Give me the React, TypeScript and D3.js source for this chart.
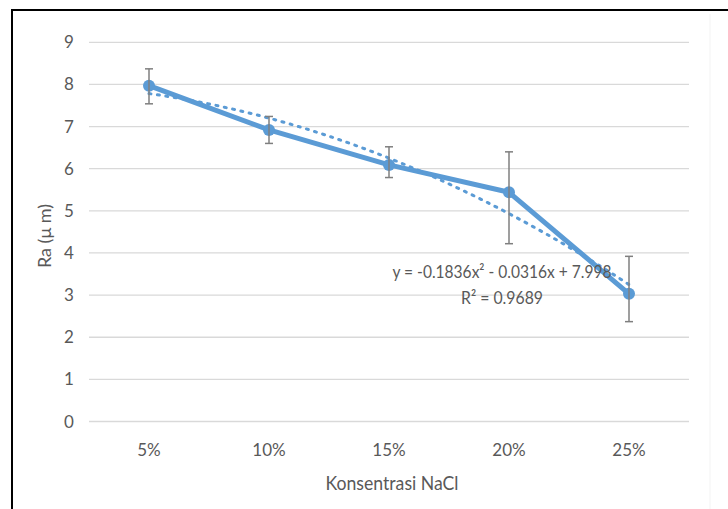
import React from "react";
import * as d3 from "d3";

const categories = ["5%", "10%", "15%", "20%", "25%"];
const raValues = [7.97, 6.92, 6.09, 5.44, 3.03];
const errUpper = [8.37, 7.24, 6.52, 6.4, 3.92];
const errLower = [7.54, 6.6, 5.79, 4.22, 2.37];
const yTicks = [0, 1, 2, 3, 4, 5, 6, 7, 8, 9];
const trendCoef = [-0.1836, -0.0316, 7.998]; // a x^2 + b x + c, from the chart's label
const trendR2 = 0.9689;

const W = 728;
const H = 509;
const FONT = "Lato, 'Open Sans', sans-serif";
const BLUE = "#5B9BD5";
const TXT = "#595959";

export default function App() {
  const x = d3.scaleBand<string>().domain(categories).range([89, 689]);
  const cx = (c: string) => (x(c) as number) + x.bandwidth() / 2;
  const y = d3.scaleLinear().domain([0, 9]).range([421.5, 42.3]);

  const pts = categories.map((c, i) => ({ c, v: raValues[i], hi: errUpper[i], lo: errLower[i] }));
  const line = d3
    .line<{ c: string; v: number }>()
    .x((d) => cx(d.c))
    .y((d) => y(d.v));

  const xi = d3
    .scaleLinear()
    .domain([1, categories.length])
    .range([cx(categories[0]), cx(categories[categories.length - 1])]);
  const samples = d3.range(1, categories.length + 0.001, 0.05);
  const trend = d3
    .line<number>()
    .x((t) => xi(t))
    .y((t) => y(trendCoef[0] * t * t + trendCoef[1] * t + trendCoef[2]))(samples);

  const eq1 = `y = ${trendCoef[0]}x\u00B2 - ${Math.abs(trendCoef[1])}x + ${trendCoef[2]}`;
  const eq2 = `R\u00B2 = ${trendR2}`;

  return (
    <div style={{ position: "fixed", left: 0, top: 0 }}>
      <svg width={W} height={H} style={{ display: "block", background: "#fff" }}>
        <rect x={12} y={10} width={740} height={540} fill="none" stroke="#000" strokeWidth={2} />
        <line x1={710} x2={710} y1={14} y2={509} stroke="#f3f3f3" strokeWidth={1} />
        {yTicks.map((t) => (
          <g key={t}>
            <line x1={89} x2={689} y1={y(t)} y2={y(t)} stroke="#d9d9d9" strokeWidth={1.3} />
            <text x={69} y={y(t) + 6} textAnchor="middle" fontFamily={FONT} fontSize={17} fill={TXT}>
              {t}
            </text>
          </g>
        ))}
        {categories.map((c) => (
          <text key={c} x={cx(c)} y={456} textAnchor="middle" fontFamily={FONT} fontSize={17} fill={TXT}>
            {c}
          </text>
        ))}
        <text x={392} y={490} textAnchor="middle" fontFamily={FONT} fontSize={19} fill={TXT} textLength={133} lengthAdjust="spacingAndGlyphs">
          Konsentrasi NaCl
        </text>
        <text
          transform={`translate(51,236) rotate(-90)`}
          textAnchor="middle"
          fontFamily={FONT}
          fontSize={18}
          fill={TXT}
        >
          Ra (μ m)
        </text>
        <path d={line(pts) || ""} fill="none" stroke={BLUE} strokeWidth={5} strokeLinejoin="round" />
        {pts.map((p) => (
          <circle key={p.c} cx={cx(p.c)} cy={y(p.v)} r={6} fill={BLUE} />
        ))}
        <path d={trend || ""} fill="none" stroke={BLUE} strokeWidth={3} strokeDasharray="2,6.5" strokeLinecap="round" />
        {pts.map((p) => (
          <g key={"e" + p.c} stroke="#7f7f7f" strokeWidth={1.5}>
            <line x1={cx(p.c)} x2={cx(p.c)} y1={y(p.hi)} y2={y(p.lo)} />
            <line x1={cx(p.c) - 4} x2={cx(p.c) + 4} y1={y(p.hi)} y2={y(p.hi)} />
            <line x1={cx(p.c) - 4} x2={cx(p.c) + 4} y1={y(p.lo)} y2={y(p.lo)} />
          </g>
        ))}
        <text x={502} y={278} textAnchor="middle" fontFamily={FONT} fontSize={18} fill={TXT} textLength={219} lengthAdjust="spacingAndGlyphs">
          {eq1}
        </text>
        <text x={502} y={304} textAnchor="middle" fontFamily={FONT} fontSize={18} fill={TXT} textLength={82} lengthAdjust="spacingAndGlyphs">
          {eq2}
        </text>
      </svg>
    </div>
  );
}
